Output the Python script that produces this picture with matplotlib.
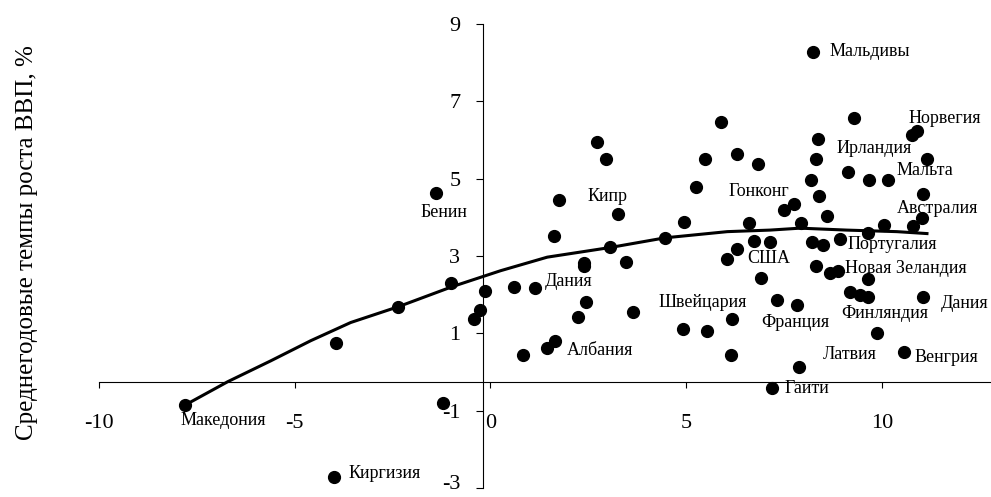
import matplotlib

matplotlib.use("Agg")
import matplotlib.pyplot as plt
from matplotlib.transforms import ScaledTranslation

plt.rcParams["font.family"] = ["Liberation Serif", "DejaVu Serif"]
plt.rcParams["axes.unicode_minus"] = False

# countries: x = horizontal factor, y = average annual GDP growth, %
pts_x = [-7.81, -4.0, -3.95, -2.37, -1.0, -1.2, -1.38, -0.43, -0.28, -0.15,
         0.61, 1.15, 0.84, 1.45, 1.66, 2.24, 2.45, 3.65, 2.4, 2.4,
         3.47, 1.76, 1.63, 2.73, 2.96, 3.27, 3.06, 4.46, 4.95, 5.26,
         5.48, 5.89, 6.3, 6.84, 6.05, 6.3, 6.61, 6.73, 7.14, 6.91,
         7.5, 7.75, 7.93, 8.19, 8.32, 8.37, 8.24, 8.39, 8.6, 8.22,
         8.5, 8.93, 8.32, 8.68, 8.89, 9.64, 9.13, 9.29, 9.67, 10.15,
         9.64, 10.05, 10.79, 11.02, 11.05, 11.15, 10.77, 10.89, 4.92, 5.53,
         6.17, 6.15, 7.32, 7.83, 7.87, 7.19, 9.18, 9.44, 9.64, 11.05,
         9.87, 10.56]
pts_y = [-0.86, -2.72, 0.74, 1.69, 2.29, -0.81, 4.64, 1.36, 1.61, 2.1,
         2.21, 2.16, 0.45, 0.63, 0.79, 1.41, 1.8, 1.54, 2.83, 2.75,
         2.85, 4.46, 3.52, 5.96, 5.51, 4.08, 3.22, 3.46, 3.89, 4.79,
         5.51, 6.47, 5.64, 5.38, 2.91, 3.19, 3.85, 3.4, 3.36, 2.43,
         4.18, 4.35, 3.85, 4.97, 5.51, 6.03, 8.28, 4.54, 4.03, 3.36,
         3.28, 3.45, 2.74, 2.55, 2.62, 2.4, 5.18, 6.56, 4.97, 4.97,
         3.6, 3.81, 3.77, 3.97, 4.6, 5.51, 6.14, 6.22, 1.12, 1.05,
         1.38, 0.43, 1.85, 1.74, 0.12, -0.42, 2.06, 2.0, 1.93, 1.93,
         1.02, 0.53]

# trend line
trend_x = [-7.81, -6.71, -5.61, -4.59, -3.57, -2.35, -0.97, 0.26, 1.45, 3.06,
           4.46, 6.05, 7.14, 7.91, 9.1, 10.38, 11.15]
trend_y = [-0.86, -0.25, 0.29, 0.81, 1.28, 1.69, 2.21, 2.62, 2.97, 3.22,
           3.47, 3.63, 3.67, 3.72, 3.67, 3.63, 3.58]

labels = ["Мальдивы", "Норвегия", "Ирландия", "Мальта", "Гонконг", "Австралия",
          "Португалия", "США", "Новая Зеландия", "Швейцария", "Дания", "Финляндия",
          "Франция", "Латвия", "Венгрия", "Гаити", "Албания", "Дания", "Кипр",
          "Бенин", "Македония", "Киргизия"]
# where each name sits (left edge, vertical centre), layout only
label_pos = [(8.65, 8.28), (10.69, 6.55), (8.83, 5.77), (10.38, 5.2), (6.07, 4.66),
             (10.38, 4.22), (9.13, 3.29), (6.56, 2.93), (9.06, 2.67), (4.29, 1.8),
             (11.5, 1.77), (8.95, 1.51), (6.91, 1.28), (8.5, 0.45), (10.82, 0.38),
             (7.5, -0.42), (1.96, 0.56), (1.38, 2.34), (2.47, 4.53), (-1.79, 4.12),
             (-7.91, -1.25), (-3.62, -2.62)]

fig = plt.figure(figsize=(9.91, 4.97), dpi=100)
ax = fig.add_axes([99 / 991, 9 / 497, 891 / 991, 464 / 497])
ax.set_xlim(-10, 12.76)
ax.set_ylim(-3, 9)

ax.plot(trend_x, trend_y, color="black", lw=2.2, zorder=2)
ax.plot(pts_x, pts_y, "o", color="black", ms=8.5, zorder=3)

for name, (lx, ly) in zip(labels, label_pos):
    ax.text(lx, ly, name, fontsize=13, ha="left", va="center")

for s in ("top", "right"):
    ax.spines[s].set_visible(False)
ax.spines["left"].set_position(("data", -0.2))
ax.spines["bottom"].set_position(("data", -0.27))
ax.spines["left"].set_linewidth(0.8)
ax.spines["bottom"].set_linewidth(0.8)

ax.set_xticks([-10, -5, 0, 5, 10])
ax.set_yticks([-3, -1, 1, 3, 5, 7, 9])
ax.tick_params(axis="x", direction="out", length=4, width=0.8, pad=19, labelsize=16)
ax.tick_params(axis="y", direction="out", length=5, width=0.8, pad=11, labelsize=16)
ax.patch.set_alpha(0)

# lift the bottom "-3" label a little so it stays inside the canvas
lab = ax.yaxis.get_major_ticks()[0].label1
lab.set_transform(lab.get_transform() + ScaledTranslation(0, 4 / 72, fig.dpi_scale_trans))

fig.text(27 / 991, 1 - 243 / 497, "Среднегодовые темпы роста ВВП, %",
         rotation=90, ha="center", va="center", fontsize=18)

fig.savefig("out.png", dpi=100)
